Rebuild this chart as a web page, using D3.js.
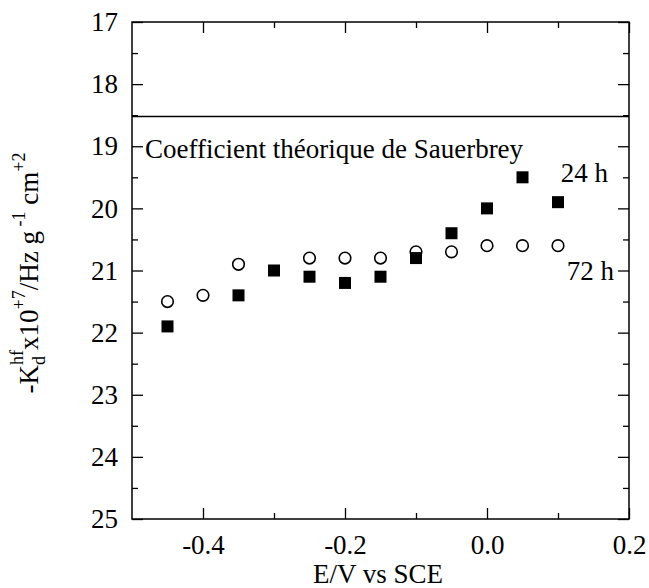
<!DOCTYPE html>
<html>
<head>
<meta charset="utf-8">
<script src="https://cdn.jsdelivr.net/npm/d3@7"></script>
<style>
  html, body { margin: 0; padding: 0; background: #fff; }
  svg { display: block; }
</style>
</head>
<body>
<svg id="chart" width="649" height="588"></svg>
<script>
// Potential (V vs SCE)
const potentials24 = [-0.45, -0.35, -0.30, -0.25, -0.20, -0.15, -0.10, -0.05, 0.00, 0.05, 0.10];
const kd24 = [21.9, 21.4, 21.0, 21.1, 21.2, 21.1, 20.8, 20.4, 20.0, 19.5, 19.9];
const potentials72 = [-0.45, -0.40, -0.35, -0.25, -0.20, -0.15, -0.10, -0.05, 0.00, 0.05, 0.10];
const kd72 = [21.5, 21.4, 20.9, 20.8, 20.8, 20.8, 20.7, 20.7, 20.6, 20.6, 20.6];
const sauerbrey = 18.52;

const xMajorTicks = [-0.4, -0.2, 0.0, 0.2];
const xTickLabels = ["-0.4", "-0.2", "0.0", "0.2"];
const xMinorTicks = [-0.3, -0.1, 0.1];
const yMajorTicks = [17, 18, 19, 20, 21, 22, 23, 24, 25];
const yMinorTicks = [17.5, 18.5, 19.5, 20.5, 21.5, 22.5, 23.5, 24.5];

const FONT = '"Liberation Serif"';
const FS = 27;
const svg = d3.select("#chart");
const L = 132, R = 629, T = 22, B = 519;

const x = d3.scaleLinear().domain([-0.5, 0.2]).range([L, R]);
const y = d3.scaleLinear().domain([17, 25]).range([T, B]);

const majorLen = 11, minorLen = 6;

function styleAxis(g) {
  g.attr("font-family", null).attr("font-size", null);
  g.select(".domain").remove();
  g.selectAll(".tick line").attr("stroke", "#000").attr("stroke-width", 1.3);
  g.selectAll(".tick text").attr("fill", "#000")
    .style("font-family", FONT).style("font-size", FS + "px");
}

function label(t, xPos, yPos, anchor) {
  return svg.append("text").attr("x", xPos).attr("y", yPos)
    .attr("text-anchor", anchor || "start")
    .style("font-family", FONT).style("font-size", FS + "px").text(t);
}

// bottom axis
svg.append("g").attr("transform", `translate(0,${B})`)
  .call(d3.axisBottom(x).tickValues(xMajorTicks).tickSize(-majorLen).tickPadding(16)
    .tickFormat((d, i) => xTickLabels[i]))
  .call(styleAxis);
svg.append("g").attr("transform", `translate(0,${B})`)
  .call(d3.axisBottom(x).tickValues(xMinorTicks).tickSize(-minorLen).tickFormat(""))
  .call(styleAxis);
// top axis
svg.append("g").attr("transform", `translate(0,${T})`)
  .call(d3.axisTop(x).tickValues(xMajorTicks).tickSize(-majorLen).tickFormat(""))
  .call(styleAxis);
svg.append("g").attr("transform", `translate(0,${T})`)
  .call(d3.axisTop(x).tickValues(xMinorTicks).tickSize(-minorLen).tickFormat(""))
  .call(styleAxis);
// left axis
svg.append("g").attr("transform", `translate(${L},0)`)
  .call(d3.axisLeft(y).tickValues(yMajorTicks).tickSize(-majorLen).tickPadding(14)
    .tickFormat(d3.format("d")))
  .call(styleAxis);
svg.append("g").attr("transform", `translate(${L},0)`)
  .call(d3.axisLeft(y).tickValues(yMinorTicks).tickSize(-minorLen).tickFormat(""))
  .call(styleAxis);
// right axis
svg.append("g").attr("transform", `translate(${R},0)`)
  .call(d3.axisRight(y).tickValues(yMajorTicks).tickSize(-majorLen).tickFormat(""))
  .call(styleAxis);
svg.append("g").attr("transform", `translate(${R},0)`)
  .call(d3.axisRight(y).tickValues(yMinorTicks).tickSize(-minorLen).tickFormat(""))
  .call(styleAxis);

// frame
svg.append("rect").attr("x", L).attr("y", T).attr("width", R - L).attr("height", B - T)
  .attr("fill", "none").attr("stroke", "#000").attr("stroke-width", 1.5);

// theoretical Sauerbrey coefficient
svg.append("line").attr("x1", L).attr("x2", R)
  .attr("y1", y(sauerbrey)).attr("y2", y(sauerbrey))
  .attr("stroke", "#000").attr("stroke-width", 1.5);
label("Coefficient théorique de Sauerbrey", 145, 158);

// 72 h: open circles
svg.append("g").selectAll("circle").data(potentials72).join("circle")
  .attr("cx", d => x(d)).attr("cy", (d, i) => y(kd72[i])).attr("r", 5.8)
  .attr("fill", "#fff").attr("stroke", "#000").attr("stroke-width", 1.6);

// 24 h: filled squares
const s = 12;
svg.append("g").selectAll("rect").data(potentials24).join("rect")
  .attr("x", d => x(d) - s / 2).attr("y", (d, i) => y(kd24[i]) - s / 2)
  .attr("width", s).attr("height", s).attr("fill", "#000");

// series labels
label("24 h", 608, 182, "end");
label("72 h", 614, 280, "end");

// axis titles
label("E/V vs SCE", 378, 583, "middle");

const yt = svg.append("text").attr("text-anchor", "middle")
  .style("font-family", FONT).style("font-size", FS + "px")
  .attr("transform", `translate(38,273) rotate(-90)`);
const sup = (t, dy, dx) => yt.append("tspan").style("font-size", "18px")
  .attr("dy", dy).attr("dx", dx || 0).text(t);
yt.append("tspan").text("-K");
sup("d", 7);
sup("hf", -22, -9);
yt.append("tspan").attr("dy", 15).text("x10");
sup("+7", -13);
yt.append("tspan").attr("dy", 13).text("/Hz g");
sup(" -1", -13);
yt.append("tspan").attr("dy", 13).text(" cm");
sup("+2", -13);
</script>
</body>
</html>
